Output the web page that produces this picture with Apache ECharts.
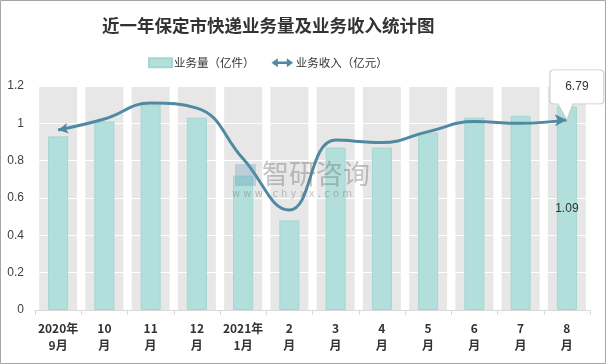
<!DOCTYPE html>
<html><head><meta charset="utf-8">
<script src="https://cdn.jsdelivr.net/npm/echarts@6/dist/echarts.min.js"></script>
<style>html,body{margin:0;padding:0;background:#fff;}#c{width:606px;height:364px;}</style>
</head><body><div id="c"></div>
<script>
var categories = ['2020年\n9月','10\n月','11\n月','12\n月','2021年\n1月','2\n月','3\n月','4\n月','5\n月','6\n月','7\n月','8\n月'];
var volume = [0.93,1.01,1.10,1.03,0.72,0.48,0.87,0.87,0.95,1.03,1.04,1.09];
var revenue = [6.43,6.82,7.39,7.21,5.40,3.57,6.07,5.98,6.37,6.73,6.67,6.79];
var yTicks = [0,0.2,0.4,0.6,0.8,1,1.2];
var bandMax = yTicks[yTicks.length-1];

var chart = echarts.init(document.getElementById('c'), null, {renderer:'canvas'});
var n = categories.length;
var lineData = revenue.map(function(v,i){
  if(i===0) return {value:v, symbol:'arrow', symbolSize:[8,10], symbolRotate:100};
  if(i===n-1) return {value:v, symbol:'arrow', symbolSize:[9,12], symbolRotate:-88};
  return {value:v, symbol:'none'};
});
var volData = volume.map(function(v,i){
  if(i===n-1) return {value:v, label:{show:true, position:'inside', color:'#333', fontSize:12, fontFamily:'Liberation Sans'}};
  return v;
});
var font = '"Noto Sans CJK SC", sans-serif';
chart.setOption({
  animation:false,
  textStyle:{fontFamily:font},
  title:{text:'近一年保定市快递业务量及业务收入统计图', left:97, top:12,
    textStyle:{fontSize:17.5, fontWeight:'bold', color:'#333', fontFamily:font}},
  legend:{left:143, top:52, itemGap:17, itemWidth:23, itemHeight:9,
    textStyle:{fontSize:11.5, color:'#333', fontFamily:font, padding:[0,0,0,-3]},
    data:[
      {name:'业务量（亿件）', icon:'rect'},
      {name:'业务收入（亿元）', icon:'path://M0,5 L7,0 L7,3.5 L17,3.5 L17,0 L24,5 L17,10 L17,6.5 L7,6.5 L7,10 Z'}
    ]},
  grid:{left:35, right:16, top:86, bottom:54},
  xAxis:[{type:'category', data:categories, z:2,
    axisLine:{lineStyle:{color:'#d9d9d9'}},
    axisTick:{show:true, length:5, lineStyle:{color:'#d9d9d9'}},
    axisLabel:{interval:0, margin:10, fontSize:12, fontWeight:'bold', color:'#333', lineHeight:17, fontFamily:font}},
    {type:'category', data:categories, show:false}],
  yAxis:[{type:'value', min:0, max:bandMax, interval:0.2, z:2,
    axisLine:{show:false}, axisTick:{show:false},
    splitLine:{lineStyle:{color:'#ffffff', width:1}},
    axisLabel:{fontSize:12, color:'#404040', margin:11, fontFamily:'Liberation Sans'}},
    {type:'value', min:0, max:8, show:false, splitLine:{show:false}}],
  series:[
    {name:'bg', type:'bar', xAxisIndex:1, yAxisIndex:0, data:categories.map(function(){return bandMax;}),
      barWidth:38, itemStyle:{color:'#e7e7e7'}, z:1, silent:true, legendHoverLink:false},
    {name:'业务量（亿件）', type:'bar', xAxisIndex:0, yAxisIndex:0, data:volData, barWidth:20, z:3,
      itemStyle:{color:'#b2dfdb', borderColor:'#a3d6d2', borderWidth:1}},
    {name:'业务收入（亿元）', type:'line', xAxisIndex:0, yAxisIndex:1, data:lineData, smooth:0.45, z:4,
      symbol:'none', lineStyle:{color:'#4f8aa1', width:3}, itemStyle:{color:'#4f8aa1'},
      markPoint:{symbol:'path://M4,0 L50,0 Q54,0 54,4 L54,30 Q54,34 50,34 L23,34 L17,50 L8,34 L4,34 Q0,34 0,30 L0,4 Q0,0 4,0 Z',
        symbolSize:[54,50], symbolOffset:[10,-25],
        itemStyle:{color:'#ffffff', borderColor:'#c8c8c8', borderWidth:1},
        label:{show:true, color:'#333', fontSize:12, fontFamily:'Liberation Sans', offset:[0,-8]},
        data:[{coord:[n-1, revenue[n-1]], value:revenue[n-1]}]}}
  ],
  graphic:[
    {type:'rect', shape:{x:0.5,y:0.5,width:605,height:363}, style:{fill:'none', stroke:'#a6a6a6', lineWidth:1}, z:100},
    {type:'rect', shape:{x:235,y:164,width:21,height:22}, style:{fill:'rgba(90,150,190,0.3)'}, z:50},
    {type:'text', left:262, top:160, style:{text:'智研咨询', fill:'rgba(110,110,110,0.4)', font:'27px "Noto Sans CJK SC"'}, z:50},
    {type:'text', left:232, top:189, style:{text:'w w w . c h y x x . c o m', fill:'rgba(110,110,110,0.4)', font:'10px "DejaVu Sans"'}, z:50}
  ]
});
</script></body></html>
